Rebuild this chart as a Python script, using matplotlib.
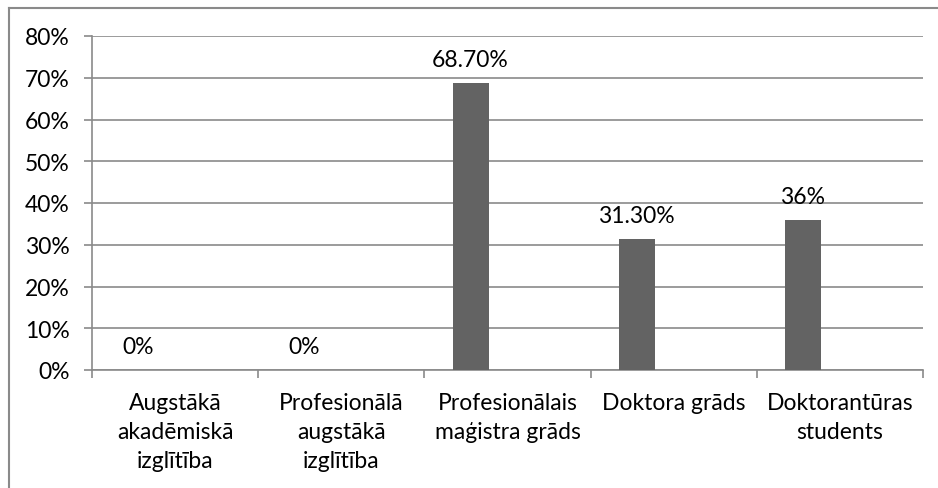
import numpy as np
import matplotlib.pyplot as plt
from matplotlib.lines import Line2D
from matplotlib.ticker import PercentFormatter

plt.rcParams['font.family'] = ['Lato', 'DejaVu Sans']

# Datos
categorias = ["Augstākā\nakadēmiskā\nizglītība",
              "Profesionālā\naugstākā\nizglītība",
              "Profesionālais\nmaģistra grāds",
              "Doktora grāds",
              "Doktorantūras\nstudents"]
valores = [0, 0, 68.7, 31.3, 36]
etiquetas = ["0%", "0%", "68.70%", "31.30%", "36%"]

gris_barra = "#636363"
gris_eje = "#8a8a8a"
fs = 16.5

fig = plt.figure(figsize=(9.38, 4.89), dpi=100)
ax = fig.add_axes([92 / 938, 1 - 371 / 489, (923 - 92) / 938, (371 - 37) / 489])

x = np.arange(len(categorias))
desplazamiento = -0.222  # la barra va a la izquierda de la categoria
ancho = 0.217
ax.bar(x + desplazamiento, valores, width=ancho, color=gris_barra, zorder=3)

for xi, v, txt in zip(x, valores, etiquetas):
    ax.annotate(txt, (xi + desplazamiento, v), xytext=(0, 17), textcoords="offset points",
                ha="center", va="center", fontsize=fs, color="black")

ax.set_xlim(-0.5, len(categorias) - 0.5)
ax.set_ylim(0, 80)
ax.set_yticks(np.arange(0, 81, 10))
ax.yaxis.set_major_formatter(PercentFormatter(decimals=0))
ax.grid(axis="y", color=gris_eje, linewidth=1.2, zorder=0)

# ticks en los limites de categoria, etiquetas en el centro
ax.set_xticks(np.arange(-0.5, len(categorias), 1.0))
ax.set_xticklabels([])
ax.set_xticks(x, minor=True)
ax.set_xticklabels(categorias, minor=True, fontsize=fs, linespacing=1.45)
ax.tick_params(axis="x", which="major", length=6, color=gris_eje, width=1.2)
ax.tick_params(axis="x", which="minor", length=0, pad=16)
ax.tick_params(axis="y", length=6, color=gris_eje, width=1.2, labelsize=fs, pad=10)

for lado in ["top", "right"]:
    ax.spines[lado].set_visible(False)
for lado in ["left", "bottom"]:
    ax.spines[lado].set_color(gris_eje)
    ax.spines[lado].set_linewidth(1.2)

# borde del grafico
fig.add_artist(Line2D([9 / 938, 1], [1 - 9 / 489] * 2, color=gris_eje, linewidth=1.5))
fig.add_artist(Line2D([9 / 938] * 2, [0, 1 - 9 / 489], color=gris_eje, linewidth=1.5))

fig.savefig("out.png", dpi=100)
